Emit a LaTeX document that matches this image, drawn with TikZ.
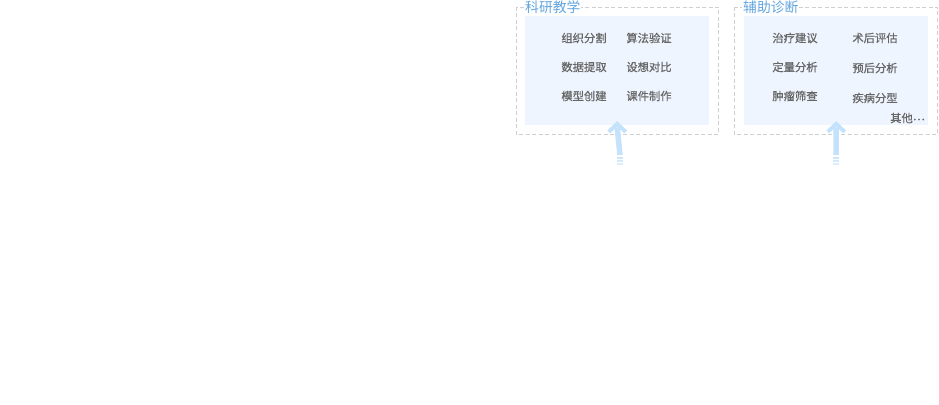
\documentclass[tikz,border=0pt]{standalone}
\usepackage{fontspec}
\newfontfamily\cjk{Noto Sans CJK SC}
\newfontfamily\cjkmid[FakeBold=0.7]{Noto Sans CJK SC}
\usetikzlibrary{positioning,calc}
\definecolor{boxfill}{HTML}{EEF5FE}
\definecolor{dashgray}{HTML}{CFCFCF}
\definecolor{titleblue}{HTML}{62A5DF}
\definecolor{itemgray}{HTML}{666666}
\definecolor{arrowblue}{HTML}{C4E2FB}

\begin{document}
\begin{tikzpicture}[x=1pt,y=-1pt,
  panel/.style={draw=dashgray, dash pattern=on 4pt off 2.5pt, line width=0.8pt},
  panelbox/.style={fill=boxfill, inner sep=0pt, anchor=north west},
  paneltitle/.style={font=\cjk\fontsize{13.8}{15}\selectfont, text=titleblue, fill=white, inner sep=1pt, anchor=west},
  item/.style={font=\cjkmid\fontsize{11.3}{13}\selectfont, text=itemgray, inner sep=0pt},
  upshaft/.style={draw=arrowblue, line width=5.5pt},
  uphead/.style={draw=arrowblue, line width=4pt, line join=miter}
]
\useasboundingbox (0,0) rectangle (939,404);

% Left panel (research and teaching)
\draw[panel] (516,7) rectangle (718,134);
\node[panelbox, minimum width=184pt, minimum height=109pt] (sciBox) at (525,16) {};
\node[paneltitle] (sciTitle) at (524,7) {科研教学};
\node[item] (sciA) at (584,38) {组织分割};
\node[item] (sciB) at (584,67) {数据提取};
\node[item] (sciC) at (584,96) {模型创建};
\node[item] (sciD) at (649,38) {算法验证};
\node[item] (sciE) at (649,67) {设想对比};
\node[item] (sciF) at (649,96) {课件制作};

% Right panel (assisted diagnosis)
\draw[panel] (734,7) rectangle (937,134);
\node[panelbox, minimum width=184pt, minimum height=109pt] (diagBox) at (744,16) {};
\node[paneltitle] (diagTitle) at (742,7) {辅助诊断};
\node[item] (diagA) at (795,38) {治疗建议};
\node[item] (diagB) at (795,67) {定量分析};
\node[item] (diagC) at (795,96) {肿瘤筛查};
\node[item] (diagD) at (875,38) {术后评估};
\node[item] (diagE) at (875,68) {预后分析};
\node[item] (diagF) at (875,98) {疾病分型};
\node[item, anchor=east] (diagMore) at (925,118) {其他\raisebox{0.35ex}{…}};

% Up arrows into the panels
\coordinate (sciFoot) at (620,155);
\coordinate (diagFoot) at (836,155);
\draw[upshaft] (sciFoot) -- ($(sciBox.south)+(0,2)$);
\draw[uphead] ($(sciBox.south)+(-8.5,6.5)$) -- ($(sciBox.south)+(0,-1.5)$) -- ($(sciBox.south)+(8.5,6.5)$);
\draw[upshaft] (diagFoot) -- ($(diagBox.south)+(0,2)$);
\draw[uphead] ($(diagBox.south)+(-8.5,6.5)$) -- ($(diagBox.south)+(0,-1.5)$) -- ($(diagBox.south)+(8.5,6.5)$);
\foreach \dy/\op in {1.7/0.9, 5/0.75, 8.3/0.6}{
  \fill[arrowblue, opacity=\op] ($(sciFoot)+(-2.75,\dy)$) rectangle ++(5.5,1.8);
  \fill[arrowblue, opacity=\op] ($(diagFoot)+(-2.75,\dy)$) rectangle ++(5.5,1.8);
}
\end{tikzpicture}
\end{document}
